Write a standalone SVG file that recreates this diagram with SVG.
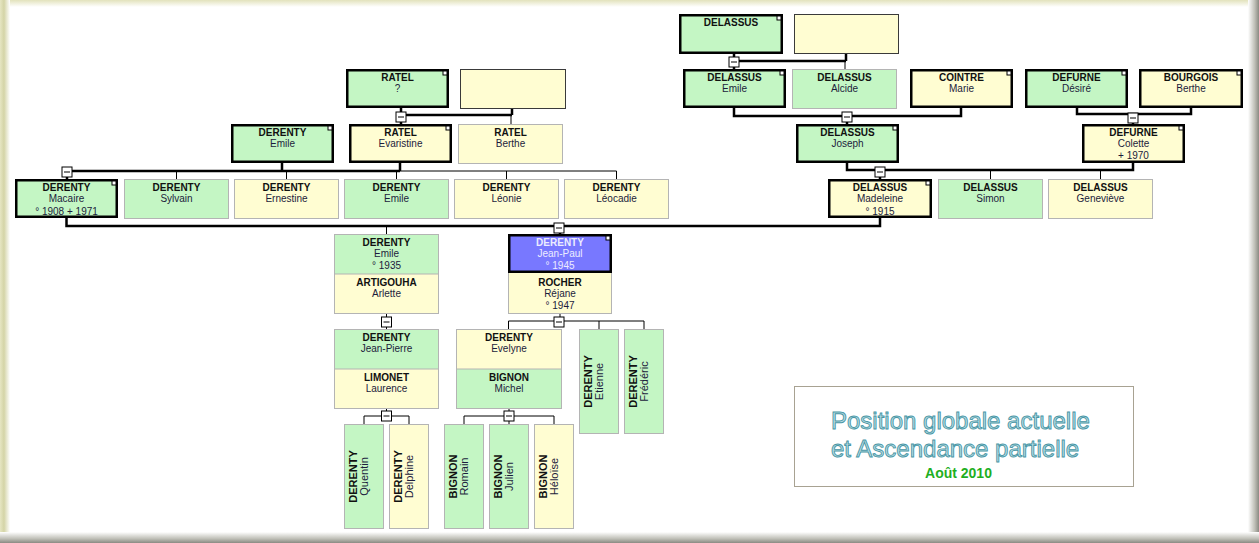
<svg xmlns="http://www.w3.org/2000/svg" width="1259" height="543" viewBox="0 0 1259 543">
<defs>
<style>
.g{fill:#c4f6c4}.y{fill:#fffdd2}.b{fill:#7878ff}
.k{stroke:#000;stroke-width:2.5}
.t{stroke:#b4b4b4;stroke-width:1}
.e{stroke:#3a3a3a;stroke-width:1}
.cs{fill:#fff;stroke:#000;stroke-width:1}
.mb{fill:#fff;stroke:#000;stroke-width:1}
.md{stroke:#000;stroke-width:1}
.lk{fill:none;stroke:#000;stroke-width:2.5}
.lt{fill:none;stroke:#000;stroke-width:1}
text{font-family:"Liberation Sans",Arial,sans-serif;font-size:10px;text-anchor:middle}
.f{font-weight:bold;fill:#111}
.n{fill:#1c1c3c}
.w{fill:#ececff}
.v{font-size:11px}
.ttl{font-size:24px;text-anchor:start;fill:#b9dee5;stroke:#4896a5;stroke-width:0.9}
.dt{font-size:14px;font-weight:bold;fill:#1faf1f}
</style>
<linearGradient id="gl" x1="0" y1="0" x2="1" y2="0"><stop offset="0" stop-color="#e6e6c2"/><stop offset="0.4" stop-color="#d4d4a6"/><stop offset="1" stop-color="#ffffff"/></linearGradient>
<linearGradient id="gt" x1="0" y1="0" x2="0" y2="1"><stop offset="0" stop-color="#e2e2bc"/><stop offset="1" stop-color="#ffffff"/></linearGradient>
<linearGradient id="gr" x1="0" y1="0" x2="1" y2="0"><stop offset="0" stop-color="#ffffff"/><stop offset="0.6" stop-color="#c0c0b8"/><stop offset="1" stop-color="#8a8a82"/></linearGradient>
<linearGradient id="gb" x1="0" y1="0" x2="0" y2="1"><stop offset="0" stop-color="#ffffff"/><stop offset="0.6" stop-color="#c0c0b8"/><stop offset="1" stop-color="#8a8a82"/></linearGradient>
</defs>
<rect x="0" y="0" width="1259" height="543" fill="#fff"/>
<rect x="0" y="0" width="1259" height="7" fill="url(#gt)"/>
<rect x="0" y="0" width="10" height="543" fill="url(#gl)"/>
<rect x="1248" y="0" width="11" height="543" fill="url(#gr)"/>
<rect x="0" y="532" width="1259" height="11" fill="url(#gb)"/>

<g id="connectors">
<path class="lk" d="M734,54V69M734,61H846M846,54V61"/>
<path class="lt" d="M845,61V69"/>
<path class="lk" d="M401,108V124M401,115H512M512,109V115"/>
<path class="lt" d="M511,115V124"/>
<path class="lk" d="M734,108V116H961V108M847,116V124"/>
<path class="lk" d="M1077,108V114H1191V108M1133,114V124"/>
<path class="lk" d="M282,163V171M400,163V171M67,171H400M67,171V179"/>
<path class="lt" d="M400,171H616.5M176.5,171V179M286.5,171V179M396.5,171V179M506.5,171V179M616.5,171V179"/>
<path class="lk" d="M847,163V170H1133V163M880,170V179"/>
<path class="lt" d="M990.5,170V179M1100.5,170V179"/>
<path class="lk" d="M66.5,218V226H880V218M560,226V234"/>
<path class="lt" d="M386.5,226V234"/>
<path class="lt" d="M386.5,314V329"/>
<path class="lt" d="M560,314V321M508.5,321H644M508.5,321V329M599,321V329M644,321V329"/>
<path class="lt" d="M386.5,409V416M364,416H409M364,416V424M409,416V424"/>
<path class="lt" d="M509,409V424M464,416H554M464,416V424M554,416V424"/>
<g id="minus-boxes">
<rect class="mb" x="729" y="57" width="10" height="10"/><path class="md" d="M731,62H737"/>
<rect class="mb" x="842" y="112" width="10" height="10"/><path class="md" d="M844,117H850"/>
<rect class="mb" x="1128" y="113" width="10" height="10"/><path class="md" d="M1130,118H1136"/>
<rect class="mb" x="396" y="112" width="10" height="10"/><path class="md" d="M398,117H404"/>
<rect class="mb" x="62" y="167" width="10" height="10"/><path class="md" d="M64,172H70"/>
<rect class="mb" x="875" y="167" width="10" height="10"/><path class="md" d="M877,172H883"/>
<rect class="mb" x="554" y="223" width="10" height="10"/><path class="md" d="M556,228H562"/>
<rect class="mb" x="381.5" y="317" width="10" height="10"/><path class="md" d="M383.5,322H389.5"/>
<rect class="mb" x="554" y="317" width="10" height="10"/><path class="md" d="M556,322H562"/>
<rect class="mb" x="381.5" y="411" width="10" height="10"/><path class="md" d="M383.5,416H389.5"/>
<rect class="mb" x="504" y="411" width="10" height="10"/><path class="md" d="M506,416H512"/>
</g>
</g>

<g id="n-delassus-0"><rect class="g k" x="680.25" y="15.25" width="101.5" height="37.5"/><rect class="cs" x="777" y="16" width="4" height="4"/><text class="f" x="731" y="26">DELASSUS</text></g>
<g id="n-empty-1"><rect class="y e" x="794.5" y="14.5" width="104" height="39"/></g>

<g id="n-delassus-emile"><rect class="g k" x="684.25" y="70.25" width="100.5" height="36.5"/><rect class="cs" x="780" y="71" width="4" height="4"/><text class="f" x="734.5" y="81">DELASSUS</text><text class="n" x="734.5" y="92">Emile</text></g>
<g id="n-delassus-alcide"><rect class="g t" x="792.5" y="69.5" width="104" height="39"/><text class="f" x="844.5" y="81">DELASSUS</text><text class="n" x="844.5" y="92">Alcide</text></g>
<g id="n-cointre"><rect class="y k" x="911.25" y="70.25" width="100.5" height="36.5"/><rect class="cs" x="1007" y="71" width="4" height="4"/><text class="f" x="961.5" y="81">COINTRE</text><text class="n" x="961.5" y="92">Marie</text></g>
<g id="n-defurne-desire"><rect class="g k" x="1026.25" y="70.25" width="100.5" height="36.5"/><rect class="cs" x="1122" y="71" width="4" height="4"/><text class="f" x="1076.5" y="81">DEFURNE</text><text class="n" x="1076.5" y="92">Désiré</text></g>
<g id="n-bourgois"><rect class="y k" x="1140.25" y="70.25" width="101.5" height="36.5"/><rect class="cs" x="1237" y="71" width="4" height="4"/><text class="f" x="1191" y="81">BOURGOIS</text><text class="n" x="1191" y="92">Berthe</text></g>

<g id="n-ratel-0"><rect class="g k" x="347.25" y="70.25" width="100.5" height="36.5"/><rect class="cs" x="443" y="71" width="4" height="4"/><text class="f" x="397.5" y="81">RATEL</text><text class="n" x="397.5" y="92">?</text></g>
<g id="n-empty-2"><rect class="y e" x="460.5" y="69.5" width="105" height="39"/></g>

<g id="n-derenty-emile-2"><rect class="g k" x="232.25" y="125.25" width="100.5" height="36.5"/><rect class="cs" x="328" y="126" width="4" height="4"/><text class="f" x="282.5" y="136">DERENTY</text><text class="n" x="282.5" y="147">Emile</text></g>
<g id="n-ratel-evaristine"><rect class="y k" x="350.25" y="125.25" width="100.5" height="36.5"/><rect class="cs" x="446" y="126" width="4" height="4"/><text class="f" x="400.5" y="136">RATEL</text><text class="n" x="400.5" y="147">Evaristine</text></g>
<g id="n-ratel-berthe"><rect class="y t" x="458.5" y="124.5" width="104" height="39"/><text class="f" x="510.5" y="136">RATEL</text><text class="n" x="510.5" y="147">Berthe</text></g>
<g id="n-delassus-joseph"><rect class="g k" x="797.25" y="125.25" width="100.5" height="36.5"/><rect class="cs" x="893" y="126" width="4" height="4"/><text class="f" x="847.5" y="136">DELASSUS</text><text class="n" x="847.5" y="147">Joseph</text></g>
<g id="n-defurne-colette"><rect class="y k" x="1083.25" y="125.25" width="100.5" height="36.5"/><rect class="cs" x="1179" y="126" width="4" height="4"/><text class="f" x="1133.5" y="136">DEFURNE</text><text class="n" x="1133.5" y="147">Colette</text><text class="n" x="1133.5" y="159">+ 1970</text></g>

<g id="n-derenty-macaire"><rect class="g k" x="16.25" y="180.25" width="100.5" height="36.5"/><rect class="cs" x="112" y="181" width="4" height="4"/><text class="f" x="66.5" y="191">DERENTY</text><text class="n" x="66.5" y="202">Macaire</text><text class="n" x="66.5" y="215">° 1908  + 1971</text></g>
<g id="n-derenty-sylvain"><rect class="g t" x="124.5" y="179.5" width="104" height="39"/><text class="f" x="176.5" y="191">DERENTY</text><text class="n" x="176.5" y="202">Sylvain</text></g>
<g id="n-derenty-ernestine"><rect class="y t" x="234.5" y="179.5" width="104" height="39"/><text class="f" x="286.5" y="191">DERENTY</text><text class="n" x="286.5" y="202">Ernestine</text></g>
<g id="n-derenty-emile-3"><rect class="g t" x="344.5" y="179.5" width="104" height="39"/><text class="f" x="396.5" y="191">DERENTY</text><text class="n" x="396.5" y="202">Emile</text></g>
<g id="n-derenty-leonie"><rect class="y t" x="454.5" y="179.5" width="104" height="39"/><text class="f" x="506.5" y="191">DERENTY</text><text class="n" x="506.5" y="202">Léonie</text></g>
<g id="n-derenty-leocadie"><rect class="y t" x="564.5" y="179.5" width="104" height="39"/><text class="f" x="616.5" y="191">DERENTY</text><text class="n" x="616.5" y="202">Léocadie</text></g>
<g id="n-delassus-madeleine"><rect class="y k" x="829.25" y="180.25" width="101.5" height="36.5"/><rect class="cs" x="926" y="181" width="4" height="4"/><text class="f" x="880" y="191">DELASSUS</text><text class="n" x="880" y="202">Madeleine</text><text class="n" x="880" y="215">° 1915</text></g>
<g id="n-delassus-simon"><rect class="g t" x="938.5" y="179.5" width="104" height="39"/><text class="f" x="990.5" y="191">DELASSUS</text><text class="n" x="990.5" y="202">Simon</text></g>
<g id="n-delassus-genevieve"><rect class="y t" x="1048.5" y="179.5" width="104" height="39"/><text class="f" x="1100.5" y="191">DELASSUS</text><text class="n" x="1100.5" y="202">Geneviève</text></g>

<g id="n-emile-artigouha"><rect class="g" x="334.5" y="234.5" width="104" height="40"/><rect class="y" x="334.5" y="274" width="104" height="39.5"/><rect fill="none" class="t" x="334.5" y="234.5" width="104" height="79"/><path class="t" d="M335,274H438"/><text class="f" x="386.5" y="246">DERENTY</text><text class="n" x="386.5" y="257">Emile</text><text class="n" x="386.5" y="269">° 1935</text><text class="f" x="386.5" y="286">ARTIGOUHA</text><text class="n" x="386.5" y="297">Arlette</text></g>
<g id="n-jeanpaul-rocher"><rect class="y t" x="508.5" y="272.5" width="103" height="41"/><rect class="b k" x="509.25" y="235.25" width="101.5" height="36.5"/><rect class="cs" x="606" y="236" width="4" height="4"/><text class="f w" x="560" y="246">DERENTY</text><text class="w" x="560" y="257">Jean-Paul</text><text class="w" x="560" y="269">° 1945</text><text class="f" x="560" y="286">ROCHER</text><text class="n" x="560" y="297">Réjane</text><text class="n" x="560" y="309">° 1947</text></g>

<g id="n-jeanpierre-limonet"><rect class="g" x="334.5" y="329.5" width="104" height="40"/><rect class="y" x="334.5" y="369" width="104" height="39.5"/><rect fill="none" class="t" x="334.5" y="329.5" width="104" height="79"/><path class="t" d="M335,369H438"/><text class="f" x="386.5" y="341">DERENTY</text><text class="n" x="386.5" y="352">Jean-Pierre</text><text class="f" x="386.5" y="381">LIMONET</text><text class="n" x="386.5" y="392">Laurence</text></g>
<g id="n-evelyne-bignon"><rect class="y" x="456.5" y="329.5" width="105" height="40"/><rect class="g" x="456.5" y="369" width="105" height="39.5"/><rect fill="none" class="t" x="456.5" y="329.5" width="105" height="79"/><path class="t" d="M457,369H561"/><text class="f" x="509" y="341">DERENTY</text><text class="n" x="509" y="352">Evelyne</text><text class="f" x="509" y="381">BIGNON</text><text class="n" x="509" y="392">Michel</text></g>
<g id="n-derenty-etienne"><rect class="g t" x="579.5" y="329.5" width="39" height="104"/><text class="f v" transform="translate(592,381.5) rotate(-90)">DERENTY</text><text class="n v" transform="translate(603,381.5) rotate(-90)">Etienne</text></g>
<g id="n-derenty-frederic"><rect class="g t" x="624.5" y="329.5" width="39" height="104"/><text class="f v" transform="translate(637,381.5) rotate(-90)">DERENTY</text><text class="n v" transform="translate(648,381.5) rotate(-90)">Frédéric</text></g>

<g id="n-derenty-quentin"><rect class="g t" x="344.5" y="424.5" width="39" height="104"/><text class="f v" transform="translate(357,476.5) rotate(-90)">DERENTY</text><text class="n v" transform="translate(368,476.5) rotate(-90)">Quentin</text></g>
<g id="n-derenty-delphine"><rect class="y t" x="389.5" y="424.5" width="39" height="104"/><text class="f v" transform="translate(402,476.5) rotate(-90)">DERENTY</text><text class="n v" transform="translate(413,476.5) rotate(-90)">Delphine</text></g>
<g id="n-bignon-romain"><rect class="g t" x="444.5" y="424.5" width="39" height="104"/><text class="f v" transform="translate(457,476.5) rotate(-90)">BIGNON</text><text class="n v" transform="translate(468,476.5) rotate(-90)">Romain</text></g>
<g id="n-bignon-julien"><rect class="g t" x="489.5" y="424.5" width="39" height="104"/><text class="f v" transform="translate(502,476.5) rotate(-90)">BIGNON</text><text class="n v" transform="translate(513,476.5) rotate(-90)">Julien</text></g>
<g id="n-bignon-heloise"><rect class="y t" x="534.5" y="424.5" width="39" height="104"/><text class="f v" transform="translate(547,476.5) rotate(-90)">BIGNON</text><text class="n v" transform="translate(558,476.5) rotate(-90)">Héloïse</text></g>

<g id="title"><rect x="794.5" y="386.5" width="339" height="100" fill="#fff" stroke="#a8a292" stroke-width="1"/><text class="ttl" x="831" y="429">Position globale actuelle</text><text class="ttl" x="831" y="457">et Ascendance partielle</text><text class="dt" x="958.5" y="478">Août 2010</text></g>
</svg>
